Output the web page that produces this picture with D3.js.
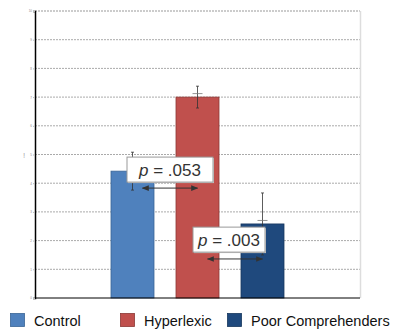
<!DOCTYPE html>
<html><head><meta charset="utf-8">
<script src="https://cdn.jsdelivr.net/npm/d3@7"></script>
<style>body{margin:0;background:#fff}svg{display:block}</style>
</head><body>
<svg id="c" width="400" height="331"></svg>
<script>
const categories = ["Control", "Hyperlexic", "Poor Comprehenders"];
const values = [4.42, 7.0, 2.58];
const errors = [0.66, 0.38, 1.08];
const colors = ["#4F81BD", "#C0504D", "#1F497D"];
const strokes = ["#3A6596", "#8C3836", "#17375E"];
const yTicks = [0,1,2,3,4,5,6,7,8,9,10];
const comparisons = [
  {from: "Control", to: "Hyperlexic", label: ".053", y: 3.83, boxY: 4.91},
  {from: "Hyperlexic", to: "Poor Comprehenders", label: ".003", y: 1.36, boxY: 2.47}
];

const svg = d3.select("#c");
const m = {l: 35, r: 40, t: 11, b: 33};
const W = 400, H = 331;
const xs = d3.scaleBand().domain(["_l", ...categories, "_r"]).range([m.l, W - m.r]);
const y = d3.scaleLinear().domain([0, 10]).range([H - m.b, m.t]);

// gridlines
svg.append("g").selectAll("line").data(yTicks.slice(1)).join("line")
  .attr("x1", m.l).attr("x2", W - m.r)
  .attr("y1", d => y(d)).attr("y2", d => y(d))
  .attr("stroke", d => d === 10 ? "#999" : "#aaa")
  .attr("stroke-width", 1)
  .attr("stroke-dasharray", "2,1");

// right border
svg.append("line").attr("x1", W - m.r + 0.5).attr("x2", W - m.r + 0.5)
  .attr("y1", y(10)).attr("y2", y(0)).attr("stroke", "#ddd").attr("stroke-width", 1.5);

// bars
const bx = c => xs(c) + (xs.bandwidth() - 43) / 2;
svg.append("g").selectAll("rect").data(categories).join("rect")
  .attr("x", c => bx(c)).attr("width", 43)
  .attr("y", (c, i) => y(values[i])).attr("height", (c, i) => y(0) - y(values[i]))
  .attr("fill", (c, i) => colors[i]).attr("stroke", (c, i) => strokes[i]).attr("stroke-width", 0.8);

// error bars
const cx = c => xs(c) + xs.bandwidth() / 2;
const eg = svg.append("g").attr("stroke", "#333").attr("stroke-width", 0.8);
categories.forEach((c, i) => {
  const t = y(values[i] + errors[i]), b = y(values[i] - errors[i]);
  eg.append("line").attr("x1", cx(c)).attr("x2", cx(c)).attr("y1", t).attr("y2", b);
  eg.append("line").attr("x1", cx(c) - 1.5).attr("x2", cx(c) + 1.5).attr("y1", t).attr("y2", t);
  eg.append("line").attr("x1", cx(c) - 1.5).attr("x2", cx(c) + 1.5).attr("y1", b).attr("y2", b);
  eg.append("line").attr("x1", cx(c) - 5).attr("x2", cx(c) + 5).attr("y1", y(values[i]) - 3.5).attr("y2", y(values[i]) - 3.5).attr("stroke", "#777");
});

// axes
const yAxis = d3.axisLeft(y).tickValues(yTicks).tickSize(2).tickFormat(d => d);
const ag = svg.append("g").attr("transform", `translate(${m.l},0)`).call(yAxis);
ag.select(".domain").attr("stroke", "#000").attr("stroke-width", 1.5);
ag.selectAll(".tick line").attr("stroke", "#bbb");
ag.selectAll(".tick text").attr("font-size", 3).attr("fill", "#888").attr("x", -3);
svg.append("line").attr("x1", m.l).attr("x2", W - m.r).attr("y1", y(0)).attr("y2", y(0)).attr("stroke", "#000").attr("stroke-width", 1);
svg.append("text").attr("x", 24).attr("y", y(5) + 3).attr("text-anchor", "middle")
  .attr("font-size", 8).attr("fill", "#aaa").attr("font-family", "Liberation Sans, Arial").text("!");

// arrow markers
const defs = svg.append("defs");
defs.append("marker").attr("id", "ah").attr("viewBox", "0 0 10 10").attr("refX", 9).attr("refY", 5)
  .attr("markerWidth", 7).attr("markerHeight", 7).attr("orient", "auto-start-reverse")
  .append("path").attr("d", "M0,1 L10,5 L0,9 z").attr("fill", "#333");

// comparisons
const boxX = [127, 193], boxW = [86, 72];
comparisons.forEach((cmp, i) => {
  const x1 = cx(cmp.from) + 10, x2 = cx(cmp.to);
  const ay = y(cmp.y);
  svg.append("line").attr("x1", x1).attr("x2", x2).attr("y1", ay).attr("y2", ay)
    .attr("stroke", "#333").attr("stroke-width", 1)
    .attr("marker-start", "url(#ah)").attr("marker-end", "url(#ah)");
  const top = y(cmp.boxY);
  const g = svg.append("g");
  g.append("rect").attr("x", boxX[i] + 1).attr("y", top + 1).attr("width", boxW[i]).attr("height", 25).attr("fill", "#ccc");
  g.append("rect").attr("x", boxX[i]).attr("y", top).attr("width", boxW[i]).attr("height", 25)
    .attr("fill", "#fff").attr("stroke", "#999").attr("stroke-width", 1);
  const t = g.append("text").attr("x", boxX[i] + boxW[i] / 2).attr("y", top + 19).attr("text-anchor", "middle")
    .attr("font-family", "Liberation Sans, Arial").attr("font-size", 17).attr("fill", "#333");
  t.append("tspan").attr("font-style", "italic").text("p");
  t.append("tspan").text(" = " + cmp.label);
});

// legend
const legX = [10, 120, 227];
const lg = svg.append("g").attr("font-family", "Liberation Sans, Arial").attr("font-size", 14.5).attr("fill", "#111");
categories.forEach((c, i) => {
  lg.append("rect").attr("x", legX[i] + 0.5).attr("y", 313.5).attr("width", 14).attr("height", 13)
    .attr("fill", colors[i]).attr("stroke", strokes[i]).attr("stroke-width", 0.8);
  lg.append("text").attr("x", legX[i] + 24).attr("y", 326).text(c);
});
</script>
</body></html>
